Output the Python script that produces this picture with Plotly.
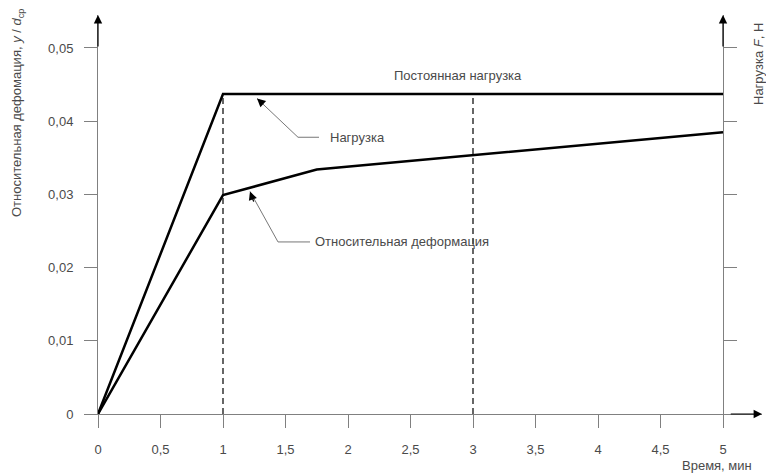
import plotly.graph_objects as go

# Data
time_load = [0, 1, 5]
load = [0, 0.0437, 0.0437]
time_def = [0, 1, 1.75, 3, 5]
deformation = [0, 0.0299, 0.0334, 0.0354, 0.0385]
dashed_times = [1, 3]
x_ticks = [0, 0.5, 1, 1.5, 2, 2.5, 3, 3.5, 4, 4.5, 5]
x_ticklabels = ["0", "0,5", "1", "1,5", "2", "2,5", "3", "3,5", "4", "4,5", "5"]
y_ticks = [0, 0.01, 0.02, 0.03, 0.04, 0.05]
y_ticklabels = ["0", "0,01", "0,02", "0,03", "0,04", "0,05"]

FONT = "Liberation Sans, Arial, sans-serif"
AXC = "#808080"
TXT = "#4a4a4a"

XMAX = 5.312
YMAX = 0.0545

fig = go.Figure()

# dashed verticals
for t in dashed_times:
    fig.add_trace(go.Scatter(x=[t, t], y=[0, load[-1]], mode="lines",
                             line=dict(color="black", width=1.2, dash="6px,4px"),
                             showlegend=False, hoverinfo="skip"))

fig.add_trace(go.Scatter(x=time_load, y=load, mode="lines",
                         line=dict(color="black", width=2.5), showlegend=False))
fig.add_trace(go.Scatter(x=time_def, y=deformation, mode="lines",
                         line=dict(color="black", width=2.5), showlegend=False))

# leader lines (gray)
fig.add_trace(go.Scatter(x=[1.272, 1.6, 1.768], y=[0.0431, 0.0378, 0.0378], mode="lines",
                         line=dict(color="#777777", width=1), showlegend=False, hoverinfo="skip"))
fig.add_trace(go.Scatter(x=[1.216, 1.44, 1.696], y=[0.0304, 0.0235, 0.0235], mode="lines",
                         line=dict(color="#777777", width=1), showlegend=False, hoverinfo="skip"))

# right axis dummy trace
fig.add_trace(go.Scatter(x=[None], y=[None], yaxis="y2", showlegend=False))

annotations = []
# leader arrowheads
annotations.append(dict(x=1.272, y=0.0431, ax=1.33, ay=0.0422, xref="x", yref="y",
                        axref="x", ayref="y", showarrow=True, arrowhead=2, arrowsize=1.3,
                        arrowwidth=1.3, arrowcolor="black", text=""))
annotations.append(dict(x=1.216, y=0.0304, ax=1.25, ay=0.0288, xref="x", yref="y",
                        axref="x", ayref="y", showarrow=True, arrowhead=2, arrowsize=1.3,
                        arrowwidth=1.3, arrowcolor="black", text=""))
# axis arrows
annotations.append(dict(x=0, y=YMAX, ax=0, ay=0.050, xref="x", yref="y", axref="x", ayref="y",
                        showarrow=True, arrowhead=2, arrowsize=1.4, arrowwidth=1.2,
                        arrowcolor="black", text=""))
annotations.append(dict(x=5, y=YMAX, ax=5, ay=0.050, xref="x", yref="y", axref="x", ayref="y",
                        showarrow=True, arrowhead=2, arrowsize=1.4, arrowwidth=1.2,
                        arrowcolor="black", text=""))
annotations.append(dict(x=XMAX, y=0, ax=5.05, ay=0, xref="x", yref="y", axref="x", ayref="y",
                        showarrow=True, arrowhead=2, arrowsize=1.4, arrowwidth=1.2,
                        arrowcolor="black", text=""))
# labels
annotations.append(dict(x=2.88, y=0.0463, xref="x", yref="y", text="Постоянная нагрузка",
                        showarrow=False, font=dict(family=FONT, size=13, color=TXT)))
annotations.append(dict(x=1.84, y=0.0378, xref="x", yref="y", text="Нагрузка", xanchor="left",
                        showarrow=False, font=dict(family=FONT, size=13, color=TXT)))
annotations.append(dict(x=1.72, y=0.0235, xref="x", yref="y", text="Относительная деформация",
                        xanchor="left", showarrow=False, font=dict(family=FONT, size=13, color=TXT)))
annotations.append(dict(x=717, y=465, xref="paper", yref="paper", text="Время, мин",
                        showarrow=False, font=dict(family=FONT, size=13, color=TXT)))
annotations.append(dict(x=17, y=113, xref="paper", yref="paper", textangle=-90,
                        text="Относительная дефомация, <i>y</i> / <i>d</i><sub>ср</sub>",
                        showarrow=False, font=dict(family=FONT, size=13, color=TXT)))
annotations.append(dict(x=758, y=64, xref="paper", yref="paper", textangle=-90,
                        text="Нагрузка <i>F</i>, Н",
                        showarrow=False, font=dict(family=FONT, size=13, color=TXT)))

# convert pixel-positioned paper annotations
W, H = 766, 473
ML, MR, MT, MB = 98, 4, 15, 59
pw, ph = W - ML - MR, H - MT - MB
for a in annotations:
    if a.get("xref") == "paper":
        a["x"] = (a["x"] - ML) / pw
        a["y"] = (H - MB - a["y"]) / ph
        a["xanchor"] = "center"
        a["yanchor"] = "middle"

fig.update_layout(
    width=W, height=H,
    margin=dict(l=ML, r=MR, t=MT, b=MB, autoexpand=False),
    plot_bgcolor="white", paper_bgcolor="white",
    font=dict(family=FONT, size=13, color=TXT),
    xaxis=dict(range=[0, XMAX], tickvals=x_ticks, ticktext=x_ticklabels,
               ticks="outside", ticklen=13, tickcolor=AXC, showline=True, linecolor=AXC,
               linewidth=1, showgrid=False, zeroline=False, automargin=False,
               ticklabelstandoff=10,
               tickfont=dict(family=FONT, size=13, color=TXT)),
    yaxis=dict(range=[0, YMAX], tickvals=y_ticks, ticktext=y_ticklabels,
               ticks="outside", ticklen=13, tickcolor=AXC, showline=True, linecolor=AXC,
               linewidth=1, showgrid=False, zeroline=False, automargin=False,
               ticklabelstandoff=8,
               tickfont=dict(family=FONT, size=13, color=TXT)),
    yaxis2=dict(range=[0, YMAX], tickvals=y_ticks, showticklabels=False, overlaying="y",
                anchor="free", position=5 / XMAX, side="right", ticks="outside", ticklen=13,
                tickcolor=AXC, showline=True, linecolor=AXC, linewidth=1, showgrid=False,
                zeroline=False, automargin=False),
    annotations=annotations,
    showlegend=False,
)

fig.write_html("out.html", config={"displayModeBar": False},
               post_script="document.body.style.margin='0';document.body.style.padding='0';")
